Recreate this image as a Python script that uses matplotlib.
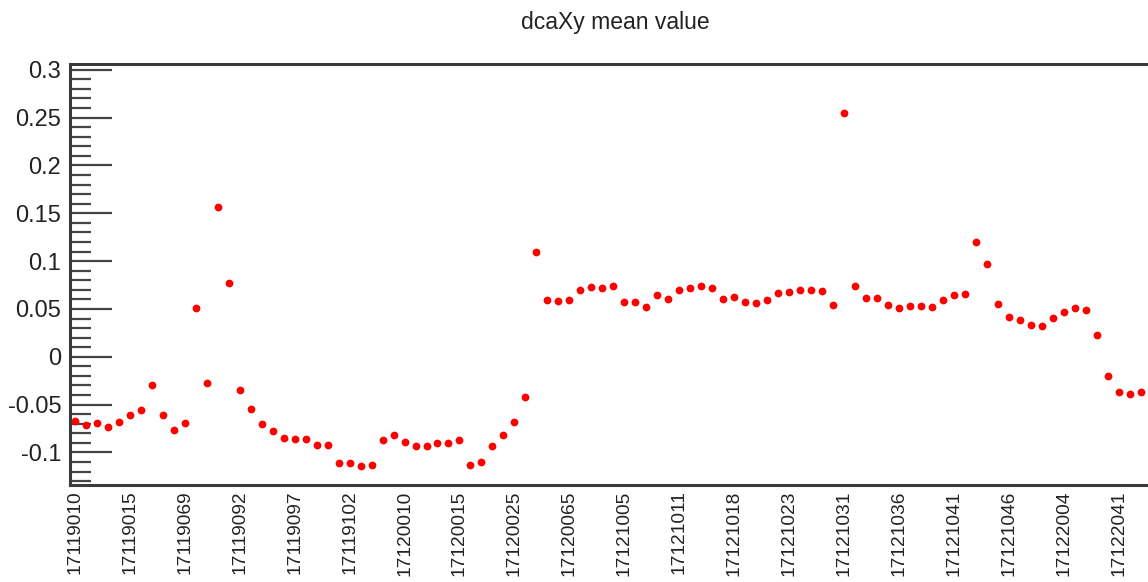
import matplotlib
matplotlib.use("Agg")
import matplotlib.pyplot as plt
from matplotlib.ticker import MultipleLocator

plt.rcParams["font.family"] = ["Liberation Sans", "DejaVu Sans"]

# dcaXy mean per run (99 runs)
dca_mean = [
    -0.0666, -0.0710, -0.0693, -0.0735, -0.0686, -0.0610, -0.0561, -0.0293, -0.0610, -0.0766,
    -0.0693, 0.0515, -0.0275, 0.1564, 0.0770, -0.0348, -0.0550, -0.0707, -0.0773, -0.0850,
    -0.0864, -0.0864, -0.0927, -0.0927, -0.1110, -0.1110, -0.1139, -0.1129, -0.0867, -0.0815,
    -0.0888, -0.0930, -0.0937, -0.0902, -0.0902, -0.0874, -0.1129, -0.1104, -0.0933, -0.0818,
    -0.0686, -0.0418, 0.1097, 0.0596, 0.0582, 0.0596, 0.0693, 0.0728, 0.0714, 0.0745,
    0.0575, 0.0575, 0.0519, 0.0648, 0.0599, 0.0693, 0.0724, 0.0745, 0.0721, 0.0599,
    0.0627, 0.0568, 0.0561, 0.0589, 0.0665, 0.0679, 0.0700, 0.0700, 0.0683, 0.0543,
    0.2553, 0.0742, 0.0613, 0.0613, 0.0540, 0.0515, 0.0533, 0.0530, 0.0519, 0.0596,
    0.0644, 0.0651, 0.1195, 0.0965, 0.0547, 0.0421, 0.0387, 0.0334, 0.0317, 0.0404,
    0.0463, 0.0509, 0.0491, 0.0223, -0.0199, -0.0373, -0.0394, -0.0369, -0.0341,
]

# run numbers shown on the x axis (every 5th run)
run_labels = [
    "17119010", "17119015", "17119069", "17119092", "17119097",
    "17119102", "17120010", "17120015", "17120025", "17120065",
    "17121005", "17121011", "17121018", "17121023", "17121031",
    "17121036", "17121041", "17121046", "17122004", "17122041",
]
label_step = 5

y_ticks = [-0.1, -0.05, 0.0, 0.05, 0.1, 0.15, 0.2, 0.25, 0.3]
y_tick_labels = ["-0.1", "-0.05", "0", "0.05", "0.1", "0.15", "0.2", "0.25", "0.3"]

W, H = 1148, 582
fig = plt.figure(figsize=(W / 100, H / 100), dpi=100)
ax = fig.add_axes([69.5 / W, (H - 485) / H, (1157 - 69.5) / W, (485 - 64) / H])

x = list(range(len(dca_mean)))
ax.plot(x, dca_mean, linestyle="none", marker="o", markersize=5.6,
        color="#ff0000", markeredgewidth=0)

ax.set_xlim(-0.5, len(dca_mean) - 0.5)
ax.set_ylim(-0.134, 0.306)

ax.set_xticks([i * label_step for i in range(len(run_labels))])
ax.set_xticklabels(run_labels, rotation=90, fontsize=13.8, color="#222222")
ax.tick_params(axis="x", length=0, pad=4)

ax.set_yticks(y_ticks)
ax.set_yticklabels(y_tick_labels, fontsize=17, color="#222222")
ax.yaxis.set_minor_locator(MultipleLocator(0.01))
ax.tick_params(axis="y", which="major", direction="in", length=30, width=1.6,
               color="#444444", pad=6)
ax.tick_params(axis="y", which="minor", direction="in", length=15, width=1.6,
               color="#444444")

for s in ax.spines.values():
    s.set_linewidth(2.2)
    s.set_color("#3a3a3a")

fig.text(615 / W, 1 - 23 / H, "dcaXy mean value", ha="center", va="center",
         fontsize=16.5, color="#222222")

fig.savefig("out.png", dpi=100)
